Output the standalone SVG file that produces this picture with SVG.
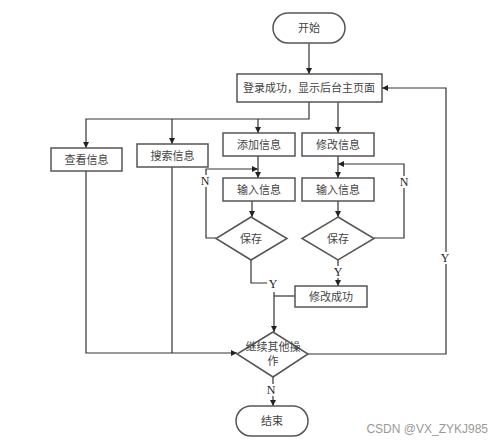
<svg xmlns="http://www.w3.org/2000/svg" width="500" height="446" viewBox="0 0 500 446">
<defs>
<marker id="ah" viewBox="0 0 10 10" refX="10" refY="5" markerWidth="6" markerHeight="6" orient="auto" markerUnits="userSpaceOnUse">
<path d="M0,0 L10,5 L0,10 z" fill="#222"/>
</marker>
<style>
.box{fill:#fff;stroke:#555;stroke-width:1.5}
.t{font-family:"Liberation Serif","Noto Sans CJK SC",serif;font-size:11px;fill:#444;text-anchor:middle;dominant-baseline:central}
.c{fill:none;stroke:#333;stroke-width:1.2}
.a{marker-end:url(#ah)}
.lbl{font-family:"Liberation Serif",serif;font-size:12px;fill:#222;text-anchor:middle;dominant-baseline:central;stroke:#fff;stroke-width:4;paint-order:stroke}
</style>
</defs>
<rect width="500" height="446" fill="#fff"/>
<g id="connectors">
<path class="c a" d="M309,43 V74"/>
<path class="c a" d="M309,102 V119 H86 V148"/>
<path class="c a" d="M172,119 V144"/>
<path class="c a" d="M258,119 V133"/>
<path class="c a" d="M338,102 V133"/>
<path class="c a" d="M258,156 V178"/>
<path class="c a" d="M252,201 V217"/>
<path class="c a" d="M216,238 H206 V169 H258"/>
<path class="c a" d="M338,156 V178"/>
<path class="c a" d="M374,238 H404 V164 H338"/>
<path class="c a" d="M338,201 V217"/>
<path class="c" d="M251,260 V283 H267"/>
<path class="c a" d="M274,292 V332"/>
<path class="c" d="M295,296 H274"/>
<path class="c a" d="M338,260 V286"/>
<path class="c a" d="M86,171 V353 H237"/>
<path class="c" d="M172,167 V353"/>
<path class="c a" d="M308,354 H446 V88 H382"/>
<path class="c a" d="M273,377 V406"/>
<text class="lbl" x="205" y="181">N</text>
<text class="lbl" x="404" y="182">N</text>
<text class="lbl" x="273" y="284">Y</text>
<text class="lbl" x="338" y="272">Y</text>
<text class="lbl" x="445" y="258">Y</text>
<text class="lbl" x="271" y="390">N</text>
</g>
<g id="start"><rect class="box" x="273" y="13" width="72" height="30" rx="15"/><text class="t" x="309" y="28">开始</text></g>
<g id="main"><rect class="box" x="237" y="74" width="145" height="28"/><text class="t" x="309" y="88">登录成功，显示后台主页面</text></g>
<g id="view"><rect class="box" x="51" y="148" width="71" height="23"/><text class="t" x="86.5" y="159.5">查看信息</text></g>
<g id="search"><rect class="box" x="137" y="144" width="71" height="23"/><text class="t" x="172.5" y="155.5">搜索信息</text></g>
<g id="add"><rect class="box" x="223" y="133" width="72" height="23"/><text class="t" x="259" y="144.5">添加信息</text></g>
<g id="edit"><rect class="box" x="302" y="133" width="72" height="23"/><text class="t" x="338" y="144.5">修改信息</text></g>
<g id="input1"><rect class="box" x="223" y="178" width="72" height="23"/><text class="t" x="259" y="189.5">输入信息</text></g>
<g id="input2"><rect class="box" x="302" y="178" width="72" height="23"/><text class="t" x="338" y="189.5">输入信息</text></g>
<g id="save1"><polygon class="box" points="251,217 287,238.5 251,260 216,238.5"/><text class="t" x="251" y="238.5">保存</text></g>
<g id="save2"><polygon class="box" points="338,217 374,238.5 338,260 302,238.5"/><text class="t" x="338" y="238.5">保存</text></g>
<g id="editok"><rect class="box" x="295" y="286" width="72" height="21"/><text class="t" x="331" y="296.5">修改成功</text></g>
<g id="cont"><polygon class="box" points="273,332 308,354 273,377 237,354"/><text class="t" x="273" y="347">继续其他操</text><text class="t" x="273" y="361">作</text></g>
<g id="end"><rect class="box" x="236" y="406" width="72" height="30" rx="15"/><text class="t" x="272" y="421">结束</text></g>
<text x="488" y="433" font-family="Liberation Sans,Arial,sans-serif" font-size="12" fill="#999" text-anchor="end">CSDN @VX_ZYKJ985</text>
</svg>
